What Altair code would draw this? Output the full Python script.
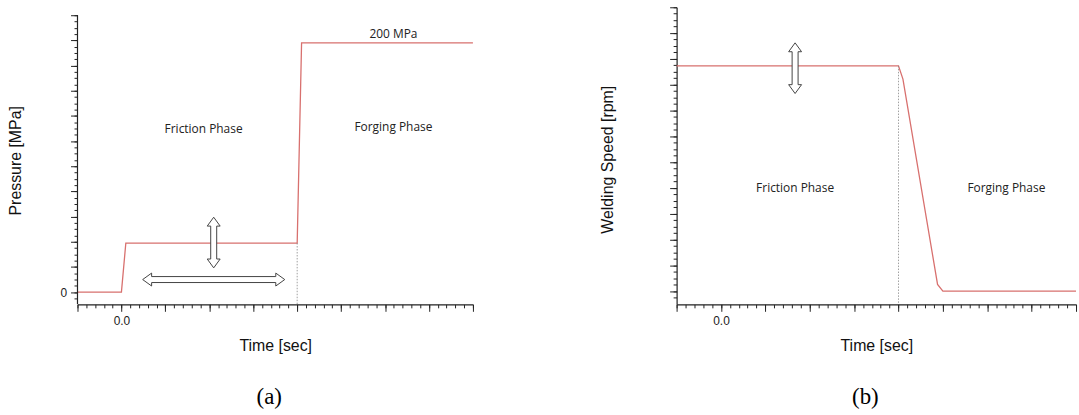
import altair as alt
import pandas as pd

# ---------------- data ----------------
# Panel (a): pressure profile
a_time = [-1.0, 0.0, 0.1, 4.0, 4.1, 8.0]
a_pressure = [0, 0, 39, 39, 198, 198]
# Panel (b): welding speed profile
b_time = [-1.0, 4.0, 4.1, 4.88, 5.0, 8.0]
b_speed = [873, 873, 822, 26, 0, 0]

# phase boundary (dotted line)
phase_change_time = 4.0

# tick positions
x_major = [-1, 0, 1, 2, 3, 4, 5, 6, 7, 8]
x_minor = [round(-1 + 0.2 * i, 1) for i in range(46)]
a_y_major = list(range(0, 221, 20))
a_y_minor = list(range(-5, 221, 5))
b_y_major = list(range(0, 1101, 100))
b_y_minor = list(range(-25, 1101, 25))

# annotation texts
a_text = ["Friction Phase", "Forging Phase", "200 MPa"]
a_text_x = [1.87, 6.19, 6.19]
a_text_y = [129.8, 131.0, 204.7]
b_text = ["Friction Phase", "Forging Phase"]
b_text_x = [1.67, 6.43]
b_text_y = [400, 400]

# double arrows (centres)
a_varrow_x, a_varrow_y = [2.1], [39.4]
a_harrow_x, a_harrow_y = [2.1], [10.0]
b_varrow_x, b_varrow_y = [1.67], [864]

# ---------------- styling ----------------
X_DOM = [-1, 8]
A_Y_DOM = [-9.7, 226.3]
B_Y_DOM = [-51, 1100]
AXC = "#222222"
LINE_C = "#d8706e"
SANS = "Liberation Sans"
PHASE_FONT = "Open Sans"

VPATH = ("M0,-1 L0.255,-0.65 L0.118,-0.65 L0.118,0.65 L0.255,0.65 L0,1 "
         "L-0.255,0.65 L-0.118,0.65 L-0.118,-0.65 L-0.255,-0.65 Z")
HPATH = ("M-1,0 L-0.874,-0.091 L-0.874,-0.042 L0.874,-0.042 L0.874,-0.091 L1,0 "
         "L0.874,0.091 L0.874,0.042 L-0.874,0.042 L-0.874,0.091 Z")


def x_major_axis():
    return alt.Axis(values=x_major, tickSize=7, tickColor=AXC, tickWidth=1,
                    labelExpr="datum.value === 0 ? '0.0' : ''",
                    labelFont=SANS, labelFontSize=12, labelColor=AXC,
                    labelPadding=4, labelFlush=False, labelOverlap=False,
                    title="Time [sec]", titleFont=SANS, titleFontSize=16,
                    titleFontWeight="normal", titleColor="#111111",
                    titleY=46, titleBaseline="alphabetic",
                    domain=True, domainColor=AXC, domainWidth=1.2,
                    grid=False, orient="bottom")


def x_minor_axis():
    return alt.Axis(values=x_minor, tickSize=3.5, tickColor=AXC, tickWidth=1,
                    labels=False, domain=False, title=None, grid=False,
                    orient="bottom")


def y_minor_axis(vals):
    return alt.Axis(values=vals, tickSize=3.5, tickColor=AXC, tickWidth=1,
                    labels=False, domain=False, title=None, grid=False,
                    orient="left")


def arrow(df, path, size):
    return alt.Chart(df).mark_point(shape=path, size=size, filled=True,
                                    fill="white", stroke="#444444",
                                    strokeWidth=1, opacity=1)


def caption(text, dx):
    return alt.TitleParams(text=text, orient="bottom", anchor="middle",
                           frame="group", font="Liberation Serif",
                           fontSize=23, fontWeight="normal", color="#000000",
                           offset=33, dx=dx)


# ---------------- panel (a) ----------------
df_a = pd.DataFrame({"t": a_time, "p": a_pressure})
xs_a = alt.Scale(domain=X_DOM, nice=False, zero=False)
ys_a = alt.Scale(domain=A_Y_DOM, nice=False, zero=False)

a_line = alt.Chart(df_a).mark_line(color=LINE_C, strokeWidth=1.3).encode(
    x=alt.X("t:Q", scale=xs_a, axis=x_major_axis()),
    y=alt.Y("p:Q", scale=ys_a, axis=alt.Axis(
        values=a_y_major, tickSize=7, tickColor=AXC, tickWidth=1,
        labelExpr="datum.value === 0 ? '0' : ''", labelFont=SANS,
        labelFontSize=12, labelColor=AXC, labelPadding=4,
        labelOverlap=False, labelFlush=False,
        domain=False, grid=False, orient="left",
        title="Pressure [MPa]", titleFont=SANS, titleFontSize=16,
        titleFontWeight="normal", titleColor="#111111",
        titleX=-57, titleY=154, titleAngle=-90, titleBaseline="alphabetic")),
)

df_a_div = pd.DataFrame({"t": [phase_change_time], "p1": [a_pressure[3]],
                         "p0": [A_Y_DOM[0]]})
a_div = alt.Chart(df_a_div).mark_rule(color="#888888", strokeWidth=0.8,
                                      strokeDash=[1.5, 1.5]).encode(
    x=alt.X("t:Q", scale=xs_a, axis=x_minor_axis()),
    y=alt.Y("p1:Q", scale=ys_a, axis=y_minor_axis(a_y_minor)),
    y2="p0:Q",
)

df_a_dom = pd.DataFrame({"t": [X_DOM[0]], "lo": [A_Y_DOM[0]], "hi": [a_y_major[-1]]})
a_dom = alt.Chart(df_a_dom).mark_rule(color=AXC, strokeWidth=1.2).encode(
    x=alt.X("t:Q", scale=xs_a, axis=None),
    y=alt.Y("lo:Q", scale=ys_a, axis=None),
    y2="hi:Q",
)

df_a_txt = pd.DataFrame({"t": a_text_x, "p": a_text_y, "s": a_text})
a_txt = alt.Chart(df_a_txt).mark_text(font=PHASE_FONT, fontSize=12,
                                      color="#222222").encode(
    x=alt.X("t:Q", scale=xs_a, axis=None),
    y=alt.Y("p:Q", scale=ys_a, axis=None),
    text="s:N",
)

a_va = arrow(pd.DataFrame({"t": a_varrow_x, "p": a_varrow_y}), VPATH, 2601).encode(
    x=alt.X("t:Q", scale=xs_a, axis=None), y=alt.Y("p:Q", scale=ys_a, axis=None))
a_ha = arrow(pd.DataFrame({"t": a_harrow_x, "p": a_harrow_y}), HPATH, 20449).encode(
    x=alt.X("t:Q", scale=xs_a, axis=None), y=alt.Y("p:Q", scale=ys_a, axis=None))

panel_a = alt.layer(a_line, a_div, a_dom, a_txt, a_va, a_ha).resolve_axis(
    x="independent", y="independent").properties(
    width=398, height=299, title=caption("(a)", -6))

# ---------------- panel (b) ----------------
df_b = pd.DataFrame({"t": b_time, "w": b_speed})
xs_b = alt.Scale(domain=X_DOM, nice=False, zero=False)
ys_b = alt.Scale(domain=B_Y_DOM, nice=False, zero=False)

b_line = alt.Chart(df_b).mark_line(color=LINE_C, strokeWidth=1.3).encode(
    x=alt.X("t:Q", scale=xs_b, axis=x_major_axis()),
    y=alt.Y("w:Q", scale=ys_b, axis=alt.Axis(
        values=b_y_major, tickSize=7, tickColor=AXC, tickWidth=1,
        labels=False, domain=True, domainColor=AXC, domainWidth=1.2,
        grid=False, orient="left",
        title="Welding Speed [rpm]", titleFont=SANS, titleFontSize=16,
        titleFontWeight="normal", titleColor="#111111",
        titleX=-64.5, titleY=153, titleAngle=-90, titleBaseline="alphabetic")),
)

df_b_div = pd.DataFrame({"t": [phase_change_time], "w1": [b_speed[1]],
                         "w0": [B_Y_DOM[0]]})
b_div = alt.Chart(df_b_div).mark_rule(color="#888888", strokeWidth=0.8,
                                      strokeDash=[1.5, 1.5]).encode(
    x=alt.X("t:Q", scale=xs_b, axis=x_minor_axis()),
    y=alt.Y("w1:Q", scale=ys_b, axis=y_minor_axis(b_y_minor)),
    y2="w0:Q",
)

df_b_txt = pd.DataFrame({"t": b_text_x, "w": b_text_y, "s": b_text})
b_txt = alt.Chart(df_b_txt).mark_text(font=PHASE_FONT, fontSize=12,
                                      color="#222222").encode(
    x=alt.X("t:Q", scale=xs_b, axis=None),
    y=alt.Y("w:Q", scale=ys_b, axis=None),
    text="s:N",
)

b_va = arrow(pd.DataFrame({"t": b_varrow_x, "w": b_varrow_y}), VPATH, 2601).encode(
    x=alt.X("t:Q", scale=xs_b, axis=None), y=alt.Y("w:Q", scale=ys_b, axis=None))

panel_b = alt.layer(b_line, b_div, b_txt, b_va).resolve_axis(
    x="independent", y="independent").properties(
    width=402, height=299, title=caption("(b)", -11))

chart = alt.hconcat(panel_a, panel_b, spacing=205, bounds="flush").configure_view(
    stroke=None).properties(
    padding={"left": 8, "top": 5, "right": 0, "bottom": 0},
    background="white")

chart.save("out.html", embed_options={"renderer": "svg", "actions": False})
